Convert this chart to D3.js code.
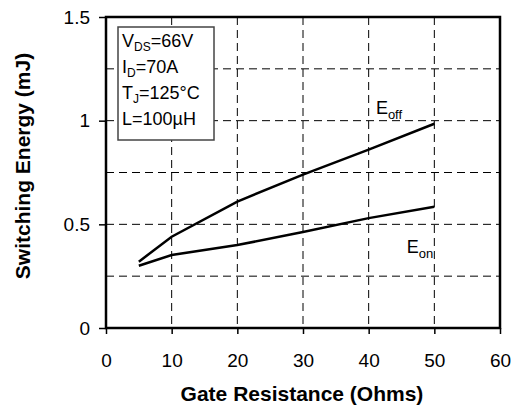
<!DOCTYPE html>
<html>
<head>
<meta charset="utf-8">
<script src="https://cdn.jsdelivr.net/npm/d3@7"></script>
<style>
  body { margin: 0; background: #fff; }
  text { font-family: Arial, "Liberation Sans", sans-serif; }
</style>
</head>
<body>
<div class="chart"></div>
<script>
// data
var gateRes = [5, 10, 20, 30, 40, 50];
var eOff = [0.32, 0.44, 0.61, 0.74, 0.86, 0.985];
var eOn = [0.30, 0.352, 0.40, 0.463, 0.53, 0.585];
var xTicks = [0, 10, 20, 30, 40, 50, 60];
var yTicks = [0, 0.5, 1, 1.5];
var xGrid = [10, 20, 30, 40, 50];
var yGrid = [0.25, 0.5, 0.75, 1, 1.25];
var legendLines = [
  ["V", "DS", "=66V"],
  ["I", "D", "=70A"],
  ["T", "J", "=125°C"],
  ["L", "", "=100µH"]
];

// set the dimensions and margins of the graph
var margin = {top: 17, right: 15, bottom: 80, left: 106},
  width = 515 - margin.left - margin.right,
  height = 408 - margin.top - margin.bottom;

var svg = d3.select(".chart")
  .append("svg")
    .attr("width", 515)
    .attr("height", 408)
  .append("g")
    .attr("transform", "translate(" + margin.left + "," + margin.top + ")");

var x = d3.scaleLinear().domain([0, 60]).range([0, width]);
var y = d3.scaleLinear().domain([0, 1.5]).range([height, 0]);

// dashed grid
svg.selectAll(".vgrid")
  .data(xGrid)
  .enter().append("line")
    .attr("x1", function(d) { return x(d); })
    .attr("x2", function(d) { return x(d); })
    .attr("y1", 0)
    .attr("y2", height)
    .style("stroke", "#000")
    .style("stroke-width", 1)
    .style("stroke-dasharray", "8,5");

svg.selectAll(".hgrid")
  .data(yGrid)
  .enter().append("line")
    .attr("x1", 0)
    .attr("x2", width)
    .attr("y1", function(d) { return y(d); })
    .attr("y2", function(d) { return y(d); })
    .style("stroke", "#000")
    .style("stroke-width", 1)
    .style("stroke-dasharray", "8,5");

// axes
var xAxis = svg.append("g")
  .attr("transform", "translate(0," + height + ")")
  .call(d3.axisBottom(x).tickValues(xTicks).tickSize(6).tickPadding(20).tickFormat(function(d) { return d; }));
xAxis.select(".domain").remove();
xAxis.selectAll("line").style("stroke-width", 1.5);
xAxis.selectAll("text").style("font-size", "19px").attr("fill", "#000");

var yAxis = svg.append("g")
  .call(d3.axisLeft(y).tickValues(yTicks).tickSize(7).tickPadding(9).tickFormat(function(d) { return d; }));
yAxis.select(".domain").remove();
yAxis.selectAll("line").style("stroke-width", 1.5);
yAxis.selectAll("text").style("font-size", "19px").attr("fill", "#000");

// condition box
var box = svg.append("g").attr("transform", "translate(12,10)");
box.append("rect")
  .attr("width", 96)
  .attr("height", 113)
  .attr("fill", "#fff")
  .attr("stroke", "#444")
  .attr("stroke-width", 1.5);

legendLines.forEach(function(l, i) {
  var t = box.append("text")
    .attr("x", 4)
    .attr("y", 20 + i * 26)
    .style("font-size", "18px");
  t.append("tspan").text(l[0]);
  if (l[1]) {
    t.append("tspan").attr("dy", 4).style("font-size", "12px").text(l[1]);
    t.append("tspan").attr("dy", -4).text(l[2]);
  } else {
    t.append("tspan").text(l[2]);
  }
});

// curves
var line = d3.line()
  .x(function(d) { return x(d[0]); })
  .y(function(d) { return y(d[1]); });

svg.append("path")
  .datum(d3.zip(gateRes, eOff))
  .attr("d", line)
  .attr("fill", "none")
  .attr("stroke", "#000")
  .attr("stroke-width", 2.5);

svg.append("path")
  .datum(d3.zip(gateRes, eOn))
  .attr("d", line)
  .attr("fill", "none")
  .attr("stroke", "#000")
  .attr("stroke-width", 2.5);

// curve labels
var offLbl = svg.append("text")
  .attr("x", x(41.1))
  .attr("y", y(1.03))
  .style("font-size", "18px");
offLbl.append("tspan").text("E");
offLbl.append("tspan").attr("dy", 5).style("font-size", "13px").text("off");

var onLbl = svg.append("text")
  .attr("x", x(45.8))
  .attr("y", y(0.362))
  .style("font-size", "18px");
onLbl.append("tspan").text("E");
onLbl.append("tspan").attr("dy", 5).style("font-size", "13px").text("on");

// frame
svg.append("rect")
  .attr("width", width)
  .attr("height", height)
  .attr("fill", "none")
  .attr("stroke", "#000")
  .attr("stroke-width", 2.5);

// axis titles
svg.append("text")
  .attr("x", width / 2 - 1)
  .attr("y", height + 73)
  .attr("text-anchor", "middle")
  .style("font-size", "21px")
  .style("font-weight", "bold")
  .text("Gate Resistance (Ohms)");

svg.append("text")
  .attr("transform", "translate(" + (30 - margin.left) + "," + (166 - margin.top) + ") rotate(-90)")
  .attr("text-anchor", "middle")
  .style("font-size", "21px")
  .style("font-weight", "bold")
  .text("Switching Energy (mJ)");
</script>
</body>
</html>
